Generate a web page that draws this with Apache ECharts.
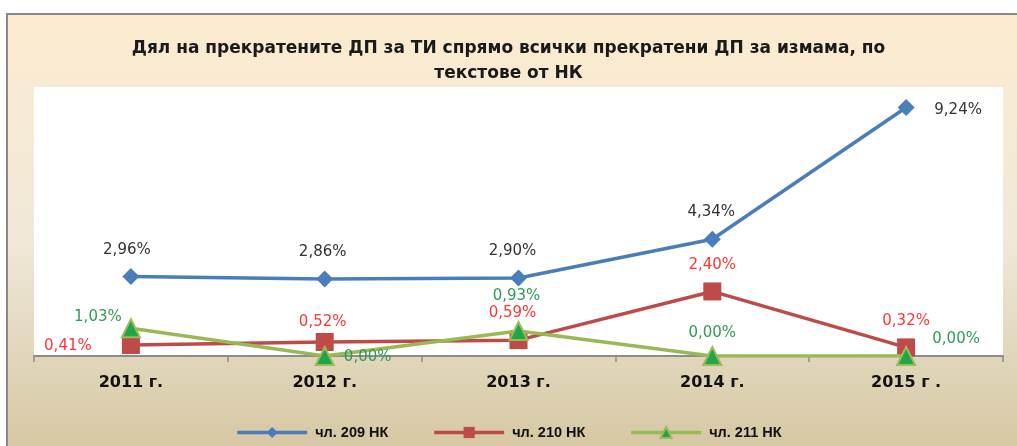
<!DOCTYPE html>
<html>
<head>
<meta charset="utf-8">
<script src="https://cdn.jsdelivr.net/npm/echarts@6/dist/echarts.min.js"></script>
<style>
html,body{margin:0;padding:0;background:#fff;}
#chart{width:1017px;height:446px;}
</style>
</head>
<body>
<div id="chart"></div>
<script>
const titleText = 'Дял на прекратените ДП за ТИ спрямо всички прекратени ДП за измама, по\nтекстове от НК';
const categories = ['2011 г.', '2012 г.', '2013 г.', '2014 г.', '2015 г .'];
const seriesNames = ['чл. 209 НК', 'чл. 210 НК', 'чл. 211 НК'];
const art209 = [2.96, 2.86, 2.90, 4.34, 9.24];
const art210 = [0.41, 0.52, 0.59, 2.40, 0.32];
const art211 = [1.03, 0.00, 0.93, 0.00, 0.00];

const chart = echarts.init(document.getElementById('chart'));
const fmt = p => p.value.toFixed(2).replace('.', ',') + '%';

// label offsets relative to the marker centre (layout only)
const offs = [
  [[-4,-26],[-2,-27],[-6,-27],[-1,-27],[52,3]],
  [[-63,1],[-2,-20],[-6,-27],[0,-26],[0,-26]],
  [[-33,-11],[43,1],[-2,-35],[0,-23],[50,-17]]
];
const labelColors = ['#333333', '#FF3535', '#2E9B5A'];
const lineColors = ['#4A7EBB', '#BE4B48', '#98B954'];
const symbols = ['diamond', 'rect', 'triangle'];
const symbolSizes = [17, 18, 18];
const values = [art209, art210, art211];

const series = values.map((vals, si) => ({
  name: seriesNames[si],
  type: 'line',
  data: vals.map((v, i) => ({
    value: v,
    label: {offset: offs[si][i]}
  })),
  symbol: symbols[si],
  symbolSize: symbolSizes[si],
  lineStyle: {color: lineColors[si], width: 3.5},
  itemStyle: si === 2 ? {color: '#1EA64B', borderColor: '#9BBB59', borderWidth: 2} : {color: lineColors[si]},
  label: {
    show: true,
    position: 'inside',
    formatter: fmt,
    color: labelColors[si],
    fontFamily: 'DejaVu Sans',
    fontSize: 15
  },
  z: si === 2 ? 4 : 3,
  animation: false
}));

chart.setOption({
  backgroundColor: '#ffffff',
  animation: false,
  graphic: [{
    type: 'rect',
    shape: {x: 7, y: 14, width: 1030, height: 450},
    style: {
      fill: new echarts.graphic.LinearGradient(0, 0, 0, 1, [
        {offset: 0, color: '#FCEBCF'},
        {offset: 0.5, color: '#F0E9D9'},
        {offset: 1, color: '#D4C59F'}
      ]),
      stroke: '#8A8A8A',
      lineWidth: 2
    },
    z: -10
  }],
  title: {
    text: titleText,
    left: 'center',
    top: 31,
    textStyle: {
      fontFamily: 'DejaVu Sans',
      fontWeight: 'bold',
      fontSize: 17,
      color: '#1A1A1A',
      lineHeight: 25
    }
  },
  grid: {
    left: 34, right: 14, top: 87, bottom: 90,
    show: true, backgroundColor: '#ffffff', borderWidth: 0
  },
  xAxis: {
    type: 'category',
    data: categories,
    boundaryGap: true,
    axisLine: {lineStyle: {color: '#8C8C8C', width: 2}},
    axisTick: {show: true, length: 6, lineStyle: {color: '#8C8C8C', width: 1.5}},
    axisLabel: {
      fontFamily: 'DejaVu Sans', fontWeight: 'bold', fontSize: 16,
      color: '#111', margin: 19
    }
  },
  yAxis: {
    type: 'value', min: 0, max: 10,
    show: false,
    splitLine: {show: false}
  },
  legend: {
    bottom: 1,
    left: 'center',
    itemWidth: 70,
    itemHeight: 14,
    itemGap: 44,
    lineStyle: {width: 3.5},
    textStyle: {fontFamily: 'Liberation Sans', fontWeight: 'bold', fontSize: 14.5, color: '#111', padding: [0, 0, 0, 3]},
    data: seriesNames
  },
  series: series
});
</script>
</body>
</html>
